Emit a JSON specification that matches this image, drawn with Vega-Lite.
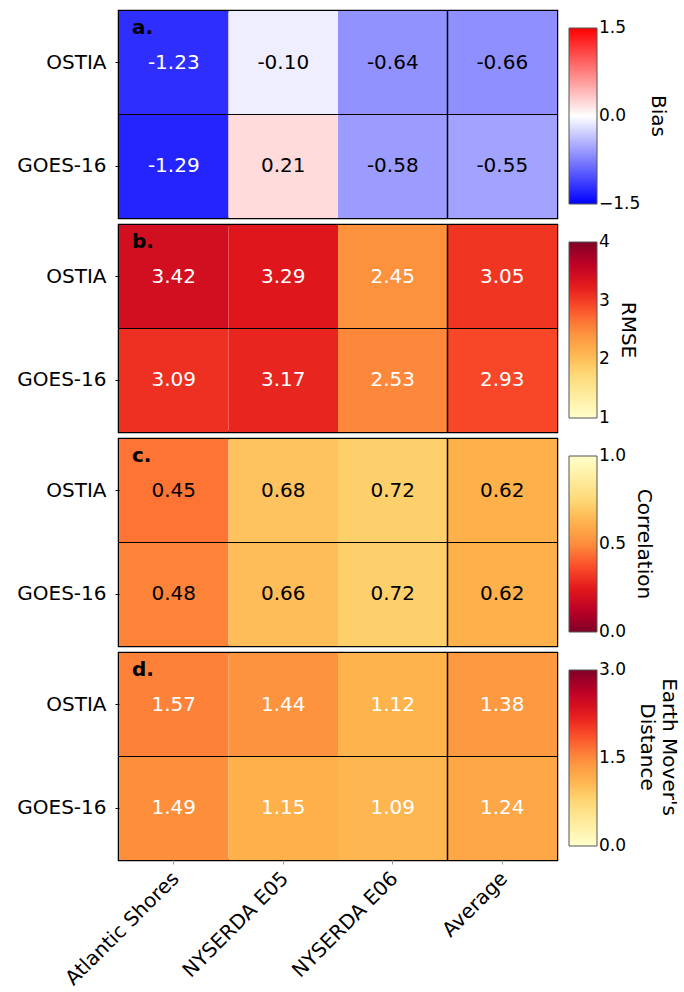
{
  "$schema": "https://vega.github.io/schema/vega-lite/v6.json",
  "padding": {"left": 15, "top": 9, "right": 5, "bottom": 5},
  "background": "white",
  "config": {
    "font": "DejaVu Sans",
    "view": {"stroke": "black", "strokeWidth": 2.5},
    "axis": {"labelFont": "DejaVu Sans", "labelFontSize": 20, "labelColor": "black", "domain": false, "ticks": true, "tickColor": "black", "tickSize": 4, "grid": false, "title": null, "labelPadding": 9},
    "legend": {"gradientLength": 176, "gradientThickness": 28, "labelFontSize": 17, "labelColor": "black", "labelFont": "DejaVu Sans", "titleFont": "DejaVu Sans", "titleFontSize": 20, "titleFontWeight": "normal", "titleColor": "black", "titleOrient": "right", "titleAngle": 90, "titleAnchor": "middle", "titleBaseline": "bottom", "titlePadding": 8, "gradientStrokeColor": "#555555", "gradientStrokeWidth": 1, "labelOffset": 8, "direction": "vertical", "orient": "none", "legendX": 450, "legendY": 17, "padding": 0},
    "title": {"font": "DejaVu Sans", "fontSize": 20, "fontWeight": "bold", "color": "black", "anchor": "start", "frame": "group", "orient": "top", "baseline": "alphabetic", "offset": -28, "dx": 13}
  },
  "data": {"values": [
    {"metric": "Bias", "source": "OSTIA", "site": "Atlantic Shores", "value": -1.23, "label": "-1.23"},
    {"metric": "Bias", "source": "OSTIA", "site": "NYSERDA E05", "value": -0.10, "label": "-0.10"},
    {"metric": "Bias", "source": "OSTIA", "site": "NYSERDA E06", "value": -0.64, "label": "-0.64"},
    {"metric": "Bias", "source": "OSTIA", "site": "Average", "value": -0.66, "label": "-0.66"},
    {"metric": "Bias", "source": "GOES-16", "site": "Atlantic Shores", "value": -1.29, "label": "-1.29"},
    {"metric": "Bias", "source": "GOES-16", "site": "NYSERDA E05", "value": 0.21, "label": "0.21"},
    {"metric": "Bias", "source": "GOES-16", "site": "NYSERDA E06", "value": -0.58, "label": "-0.58"},
    {"metric": "Bias", "source": "GOES-16", "site": "Average", "value": -0.55, "label": "-0.55"},
    {"metric": "RMSE", "source": "OSTIA", "site": "Atlantic Shores", "value": 3.42, "label": "3.42"},
    {"metric": "RMSE", "source": "OSTIA", "site": "NYSERDA E05", "value": 3.29, "label": "3.29"},
    {"metric": "RMSE", "source": "OSTIA", "site": "NYSERDA E06", "value": 2.45, "label": "2.45"},
    {"metric": "RMSE", "source": "OSTIA", "site": "Average", "value": 3.05, "label": "3.05"},
    {"metric": "RMSE", "source": "GOES-16", "site": "Atlantic Shores", "value": 3.09, "label": "3.09"},
    {"metric": "RMSE", "source": "GOES-16", "site": "NYSERDA E05", "value": 3.17, "label": "3.17"},
    {"metric": "RMSE", "source": "GOES-16", "site": "NYSERDA E06", "value": 2.53, "label": "2.53"},
    {"metric": "RMSE", "source": "GOES-16", "site": "Average", "value": 2.93, "label": "2.93"},
    {"metric": "Correlation", "source": "OSTIA", "site": "Atlantic Shores", "value": 0.45, "label": "0.45"},
    {"metric": "Correlation", "source": "OSTIA", "site": "NYSERDA E05", "value": 0.68, "label": "0.68"},
    {"metric": "Correlation", "source": "OSTIA", "site": "NYSERDA E06", "value": 0.72, "label": "0.72"},
    {"metric": "Correlation", "source": "OSTIA", "site": "Average", "value": 0.62, "label": "0.62"},
    {"metric": "Correlation", "source": "GOES-16", "site": "Atlantic Shores", "value": 0.48, "label": "0.48"},
    {"metric": "Correlation", "source": "GOES-16", "site": "NYSERDA E05", "value": 0.66, "label": "0.66"},
    {"metric": "Correlation", "source": "GOES-16", "site": "NYSERDA E06", "value": 0.72, "label": "0.72"},
    {"metric": "Correlation", "source": "GOES-16", "site": "Average", "value": 0.62, "label": "0.62"},
    {"metric": "EMD", "source": "OSTIA", "site": "Atlantic Shores", "value": 1.57, "label": "1.57"},
    {"metric": "EMD", "source": "OSTIA", "site": "NYSERDA E05", "value": 1.44, "label": "1.44"},
    {"metric": "EMD", "source": "OSTIA", "site": "NYSERDA E06", "value": 1.12, "label": "1.12"},
    {"metric": "EMD", "source": "OSTIA", "site": "Average", "value": 1.38, "label": "1.38"},
    {"metric": "EMD", "source": "GOES-16", "site": "Atlantic Shores", "value": 1.49, "label": "1.49"},
    {"metric": "EMD", "source": "GOES-16", "site": "NYSERDA E05", "value": 1.15, "label": "1.15"},
    {"metric": "EMD", "source": "GOES-16", "site": "NYSERDA E06", "value": 1.09, "label": "1.09"},
    {"metric": "EMD", "source": "GOES-16", "site": "Average", "value": 1.24, "label": "1.24"}
  ]},
  "spacing": 3,
  "resolve": {"scale": {"color": "independent"}, "legend": {"color": "independent"}},
  "vconcat": [
    {
      "width": 438, "height": 207,
      "title": "a.",
      "transform": [{"filter": "datum.metric === 'Bias'"}],
      "encoding": {
        "x": {"field": "site", "type": "nominal", "sort": ["Atlantic Shores", "NYSERDA E05", "NYSERDA E06", "Average"], "axis": null},
        "y": {"field": "source", "type": "nominal", "sort": ["OSTIA", "GOES-16"]}
      },
      "layer": [
        {"mark": {"type": "rect"}, "encoding": {"color": {"field": "value", "type": "quantitative", "scale": {"domain": [-1.5, 0, 1.5], "range": ["#0000ff", "#ffffff", "#ff0000"], "interpolate": "rgb"}, "legend": {"title": "Bias", "values": [-1.5, 0, 1.5], "format": ".1f", "encode": {"labels": {"update": {"baseline": {"value": "middle"}}}}}}}},
        {"mark": {"type": "text", "fontSize": 20, "font": "DejaVu Sans"}, "encoding": {"text": {"field": "label"}, "color": {"condition": {"test": "datum.value < -1", "value": "white"}, "value": "black"}}},
        {"transform": [{"filter": "datum.site === 'Average' && datum.source === 'OSTIA'"}], "mark": {"type": "rule", "color": "black", "strokeWidth": 1.5}, "encoding": {"x": {"field": "site", "type": "nominal", "bandPosition": 0}, "y": null}},
        {"transform": [{"filter": "datum.site === 'Average' && datum.source === 'GOES-16'"}], "mark": {"type": "rule", "color": "black", "strokeWidth": 1}, "encoding": {"y": {"field": "source", "type": "nominal", "bandPosition": 0}, "x": null}}
      ]
    },
    {
      "width": 438, "height": 207,
      "title": "b.",
      "transform": [{"filter": "datum.metric === 'RMSE'"}],
      "encoding": {
        "x": {"field": "site", "type": "nominal", "sort": ["Atlantic Shores", "NYSERDA E05", "NYSERDA E06", "Average"], "axis": null},
        "y": {"field": "source", "type": "nominal", "sort": ["OSTIA", "GOES-16"]}
      },
      "layer": [
        {"mark": {"type": "rect"}, "encoding": {"color": {"field": "value", "type": "quantitative", "scale": {"domain": [1, 1.375, 1.75, 2.125, 2.5, 2.875, 3.25, 3.625, 4], "range": ["#ffffcc", "#ffeda0", "#fed976", "#feb24c", "#fd8d3c", "#fc4e2a", "#e31a1c", "#bd0026", "#800026"], "interpolate": "rgb"}, "legend": {"title": "RMSE", "values": [1, 2, 3, 4], "format": "d", "encode": {"labels": {"update": {"baseline": {"value": "middle"}}}}}}}},
        {"mark": {"type": "text", "fontSize": 20, "font": "DejaVu Sans", "color": "white"}, "encoding": {"text": {"field": "label"}}},
        {"transform": [{"filter": "datum.site === 'Average' && datum.source === 'OSTIA'"}], "mark": {"type": "rule", "color": "black", "strokeWidth": 1.5}, "encoding": {"x": {"field": "site", "type": "nominal", "bandPosition": 0}, "y": null}},
        {"transform": [{"filter": "datum.site === 'Average' && datum.source === 'GOES-16'"}], "mark": {"type": "rule", "color": "black", "strokeWidth": 1}, "encoding": {"y": {"field": "source", "type": "nominal", "bandPosition": 0}, "x": null}}
      ]
    },
    {
      "width": 438, "height": 207,
      "title": "c.",
      "transform": [{"filter": "datum.metric === 'Correlation'"}],
      "encoding": {
        "x": {"field": "site", "type": "nominal", "sort": ["Atlantic Shores", "NYSERDA E05", "NYSERDA E06", "Average"], "axis": null},
        "y": {"field": "source", "type": "nominal", "sort": ["OSTIA", "GOES-16"]}
      },
      "layer": [
        {"mark": {"type": "rect"}, "encoding": {"color": {"field": "value", "type": "quantitative", "scale": {"domain": [0, 0.125, 0.25, 0.375, 0.5, 0.625, 0.75, 0.875, 1], "range": ["#800026", "#bd0026", "#e31a1c", "#fc4e2a", "#fd8d3c", "#feb24c", "#fed976", "#ffeda0", "#ffffcc"], "interpolate": "rgb"}, "legend": {"title": "Correlation", "values": [0, 0.5, 1], "format": ".1f", "encode": {"labels": {"update": {"baseline": {"value": "middle"}}}}}}}},
        {"mark": {"type": "text", "fontSize": 20, "font": "DejaVu Sans", "color": "black"}, "encoding": {"text": {"field": "label"}}},
        {"transform": [{"filter": "datum.site === 'Average' && datum.source === 'OSTIA'"}], "mark": {"type": "rule", "color": "black", "strokeWidth": 1.5}, "encoding": {"x": {"field": "site", "type": "nominal", "bandPosition": 0}, "y": null}},
        {"transform": [{"filter": "datum.site === 'Average' && datum.source === 'GOES-16'"}], "mark": {"type": "rule", "color": "black", "strokeWidth": 1}, "encoding": {"y": {"field": "source", "type": "nominal", "bandPosition": 0}, "x": null}}
      ]
    },
    {
      "width": 438, "height": 207,
      "title": "d.",
      "transform": [{"filter": "datum.metric === 'EMD'"}],
      "encoding": {
        "x": {"field": "site", "type": "nominal", "sort": ["Atlantic Shores", "NYSERDA E05", "NYSERDA E06", "Average"], "axis": {"labelAngle": -45, "labelAlign": "right", "labelBaseline": "top", "labelFontSize": 20, "labelOffset": -5, "tickSize": 4, "tickColor": "#999999", "labelPadding": 4}},
        "y": {"field": "source", "type": "nominal", "sort": ["OSTIA", "GOES-16"]}
      },
      "layer": [
        {"mark": {"type": "rect"}, "encoding": {"color": {"field": "value", "type": "quantitative", "scale": {"domain": [0, 0.375, 0.75, 1.125, 1.5, 1.875, 2.25, 2.625, 3], "range": ["#ffffcc", "#ffeda0", "#fed976", "#feb24c", "#fd8d3c", "#fc4e2a", "#e31a1c", "#bd0026", "#800026"], "interpolate": "rgb"}, "legend": {"title": ["Earth Mover's", "Distance"], "titlePadding": 33, "values": [0, 1.5, 3], "format": ".1f", "encode": {"labels": {"update": {"baseline": {"value": "middle"}}}}}}}},
        {"mark": {"type": "text", "fontSize": 20, "font": "DejaVu Sans", "color": "white"}, "encoding": {"text": {"field": "label"}}},
        {"transform": [{"filter": "datum.site === 'Average' && datum.source === 'OSTIA'"}], "mark": {"type": "rule", "color": "black", "strokeWidth": 1.5}, "encoding": {"x": {"field": "site", "type": "nominal", "bandPosition": 0}, "y": null}},
        {"transform": [{"filter": "datum.site === 'Average' && datum.source === 'GOES-16'"}], "mark": {"type": "rule", "color": "black", "strokeWidth": 1}, "encoding": {"y": {"field": "source", "type": "nominal", "bandPosition": 0}, "x": null}}
      ]
    }
  ]
}
